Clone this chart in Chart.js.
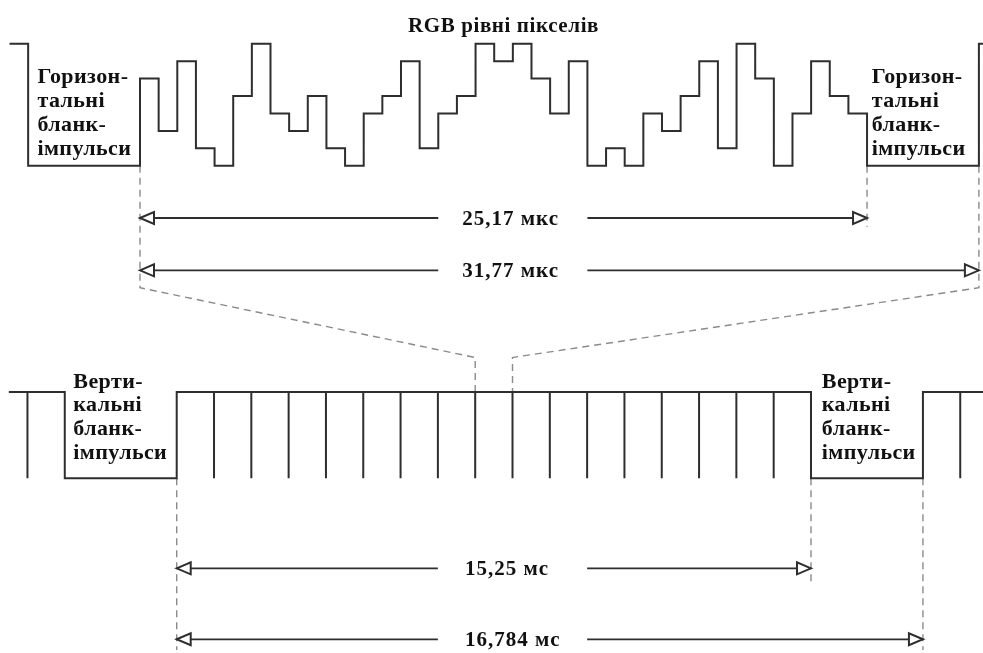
<!DOCTYPE html>
<html lang="uk">
<head>
<meta charset="utf-8">
<title>VGA timing</title>
<script src="https://cdn.jsdelivr.net/npm/chart.js@4.4.0/dist/chart.umd.min.js"></script>
<style>
  html, body { margin: 0; padding: 0; background: #fff; }
  canvas { display: block; }
</style>
</head>
<body>
<canvas id="timing-chart" width="983" height="653"></canvas>
<script>
// RGB level of every pixel shown in one line (0 = black ... 7 = brightest)
const pixelLevels = [5, 2, 6, 1, 0, 4, 7, 3, 2, 4, 1, 0, 3, 4, 6, 1, 3, 4, 7,
                     6, 7, 5, 3, 6, 0, 1, 0, 3, 2, 4, 6, 1, 7, 5, 0, 3, 6, 4, 3];
const neighbourLevel = 7;   // level of the previous / next line at the edges
const hBlankSlots = 6;      // horizontal blanking length, in pixel slots

// lines of the frame, starting at line -5: 1 = video line, 0 = vertical blanking
const frameLines = [1, 1, 0, 0, 0,
                    1, 1, 1, 1, 1, 1, 1, 1, 1, 1, 1, 1, 1, 1, 1, 1, 1,
                    0, 0, 0, 1, 1];
const firstLine = -5;
const zoomedLines = [8, 9];  // the line the top picture blows up

const titleText = 'RGB рівні пікселів';
const hLabel = ['Горизон-', 'тальні', 'бланк-', 'імпульси'];
const vLabel = ['Верти-', 'кальні', 'бланк-', 'імпульси'];
const lineTimesUs = [25.17, 31.77];
const frameTimesMs = [15.25, 16.784];

// ---- layout ----
const INK = '#2e2e2e';
const GUIDE = '#8a8a8a';
const FONT = '"Liberation Serif", "Times New Roman", serif';
const X_RANGE = [-7.51, 45.22], Y_RANGE = [-27.96, 9.51];
const X2_RANGE = [-4.736, 21.61], Y2_RANGE = [-2.024, 5.542];

const toX = v => X_RANGE[0] + (v - X2_RANGE[0]) / (X2_RANGE[1] - X2_RANGE[0]) * (X_RANGE[1] - X_RANGE[0]);
const toY = v => Y_RANGE[0] + (v - Y2_RANGE[0]) / (Y2_RANGE[1] - Y2_RANGE[0]) * (Y_RANGE[1] - Y_RANGE[0]);
const fmt = v => String(v).replace('.', ',');

function line(data, xAxisID, yAxisID, extra) {
    return Object.assign({
        data: data, xAxisID: xAxisID, yAxisID: yAxisID,
        borderColor: INK, borderWidth: 2, pointRadius: 0,
        fill: false, tension: 0, borderJoinStyle: 'miter'
    }, extra);
}

function guide(data, xAxisID, yAxisID) {
    return line(data, xAxisID, yAxisID, { borderColor: GUIDE, borderWidth: 1.4, borderDash: [7, 5] });
}

function dimension(text, end, yVal, gap, xAxisID, yAxisID) {
    return line([
        { x: 0, y: yVal }, { x: gap[0], y: yVal }, { x: (gap[0] + gap[1]) / 2, y: null },
        { x: gap[1], y: yVal }, { x: end, y: yVal }
    ], xAxisID, yAxisID, { borderWidth: 1.8, arrows: true, label: text });
}

// top signal: one line of RGB pixels
const rgbPath = [{ x: -hBlankSlots - 1, y: neighbourLevel }, { x: -hBlankSlots, y: 0 }];
pixelLevels.forEach((lvl, k) => rgbPath.push({ x: k, y: lvl }));
rgbPath.push({ x: pixelLevels.length, y: 0 });
rgbPath.push({ x: pixelLevels.length + hBlankSlots, y: neighbourLevel });
rgbPath.push({ x: pixelLevels.length + hBlankSlots + 2, y: neighbourLevel });

// bottom signal: lines of one frame
const framePath = [];
frameLines.forEach((lvl, i) => {
    const x = firstLine + i;
    if (i === 0) {
        framePath.push({ x: x + 0.5, y: lvl });
    } else if (lvl === 1 && frameLines[i - 1] === 1) {
        framePath.push({ x: x, y: 0 }, { x: x, y: 1 });
    } else {
        framePath.push({ x: x, y: lvl });
    }
});
framePath.push({ x: firstLine + frameLines.length, y: frameLines[frameLines.length - 1] });

const lineEnd = [pixelLevels.length, pixelLevels.length + hBlankSlots];
const activeLines = frameLines.slice(-firstLine).indexOf(0);
const frameEnd = [activeLines, activeLines + frameLines.slice(-firstLine + activeLines).indexOf(1)];

const datasets = [
    line(rgbPath, 'x', 'y', { stepped: true }),
    line(framePath, 'x2', 'y2', { stepped: true }),
    dimension(fmt(lineTimesUs[0]) + ' мкс', lineEnd[0], -3, [16, 24], 'x', 'y'),
    dimension(fmt(lineTimesUs[1]) + ' мкс', lineEnd[1], -6, [16, 24], 'x', 'y'),
    dimension(fmt(frameTimesMs[0]) + ' мс', frameEnd[0], -1.043, [7, 11], 'x2', 'y2'),
    dimension(fmt(frameTimesMs[1]) + ' мс', frameEnd[1], -1.865, [7, 11], 'x2', 'y2'),
    guide([{ x: 0, y: 0 }, { x: 0, y: -7 }, { x: toX(zoomedLines[0]), y: toY(1.4) }, { x: toX(zoomedLines[0]), y: toY(1) }], 'x', 'y'),
    guide([{ x: lineEnd[1], y: 0 }, { x: lineEnd[1], y: -7 }, { x: toX(zoomedLines[1]), y: toY(1.4) }, { x: toX(zoomedLines[1]), y: toY(1) }], 'x', 'y'),
    guide([{ x: lineEnd[0], y: 0 }, { x: lineEnd[0], y: -3.5 }], 'x', 'y'),
    guide([{ x: 0, y: 0 }, { x: 0, y: -1.99 }], 'x2', 'y2'),
    guide([{ x: frameEnd[0], y: 0 }, { x: frameEnd[0], y: -1.24 }], 'x2', 'y2'),
    guide([{ x: frameEnd[1], y: 0 }, { x: frameEnd[1], y: -1.99 }], 'x2', 'y2')
];

const labelBlocks = [
    { lines: hLabel, x: -5.5, y: 4.73, xAxis: 'x', yAxis: 'y' },
    { lines: hLabel, x: 39.25, y: 4.73, xAxis: 'x', yAxis: 'y' },
    { lines: vLabel, x: -2.77, y: 1.05, xAxis: 'x2', yAxis: 'y2' },
    { lines: vLabel, x: 17.29, y: 1.05, xAxis: 'x2', yAxis: 'y2' }
];

function arrowHead(ctx, x, y, dir) {
    ctx.beginPath();
    ctx.moveTo(x, y);
    ctx.lineTo(x - dir * 14, y - 6);
    ctx.lineTo(x - dir * 14, y + 6);
    ctx.closePath();
    ctx.fillStyle = '#fff';
    ctx.fill();
    ctx.lineWidth = 2;
    ctx.strokeStyle = INK;
    ctx.stroke();
}

const annotate = {
    id: 'annotate',
    afterDatasetsDraw(chart) {
        const ctx = chart.ctx;
        const s = chart.scales;
        ctx.save();
        ctx.textBaseline = 'alphabetic';

        chart.data.datasets.forEach((ds, i) => {
            if (!ds.arrows) return;
            const pts = chart.getDatasetMeta(i).data;
            const last = pts[pts.length - 1];
            arrowHead(ctx, pts[0].x, pts[0].y, -1);
            arrowHead(ctx, last.x, last.y, 1);
            ctx.fillStyle = '#111';
            ctx.font = 'bold 21px ' + FONT;
            ctx.letterSpacing = '1px';
            ctx.textAlign = 'left';
            ctx.fillText(ds.label, pts[1].x + (ds.xAxisID === 'x' ? 24 : 27), pts[1].y + 7);
        });

        ctx.fillStyle = '#111';
        ctx.font = 'bold 21px ' + FONT;
        ctx.letterSpacing = '0.6px';
        ctx.textAlign = 'center';
        ctx.fillText(titleText, s.x.getPixelForValue(pixelLevels.length / 2), s.y.getPixelForValue(7.69));

        ctx.font = 'bold 22px ' + FONT;
        ctx.letterSpacing = '0.4px';
        ctx.textAlign = 'left';
        labelBlocks.forEach(b => {
            const x = s[b.xAxis].getPixelForValue(b.x);
            const y = s[b.yAxis].getPixelForValue(b.y);
            b.lines.forEach((t, k) => ctx.fillText(t, x, y + k * 23.8));
        });
        ctx.restore();
    }
};

new Chart(document.getElementById('timing-chart'), {
    type: 'line',
    data: { datasets: datasets },
    options: {
        responsive: false,
        animation: false,
        layout: { padding: 0 },
        plugins: { legend: { display: false }, tooltip: { enabled: false } },
        scales: {
            x: { type: 'linear', display: false, min: X_RANGE[0], max: X_RANGE[1] },
            y: { type: 'linear', display: false, min: Y_RANGE[0], max: Y_RANGE[1] },
            x2: { type: 'linear', display: false, min: X2_RANGE[0], max: X2_RANGE[1] },
            y2: { type: 'linear', display: false, min: Y2_RANGE[0], max: Y2_RANGE[1] }
        }
    },
    plugins: [annotate]
});
</script>
</body>
</html>
